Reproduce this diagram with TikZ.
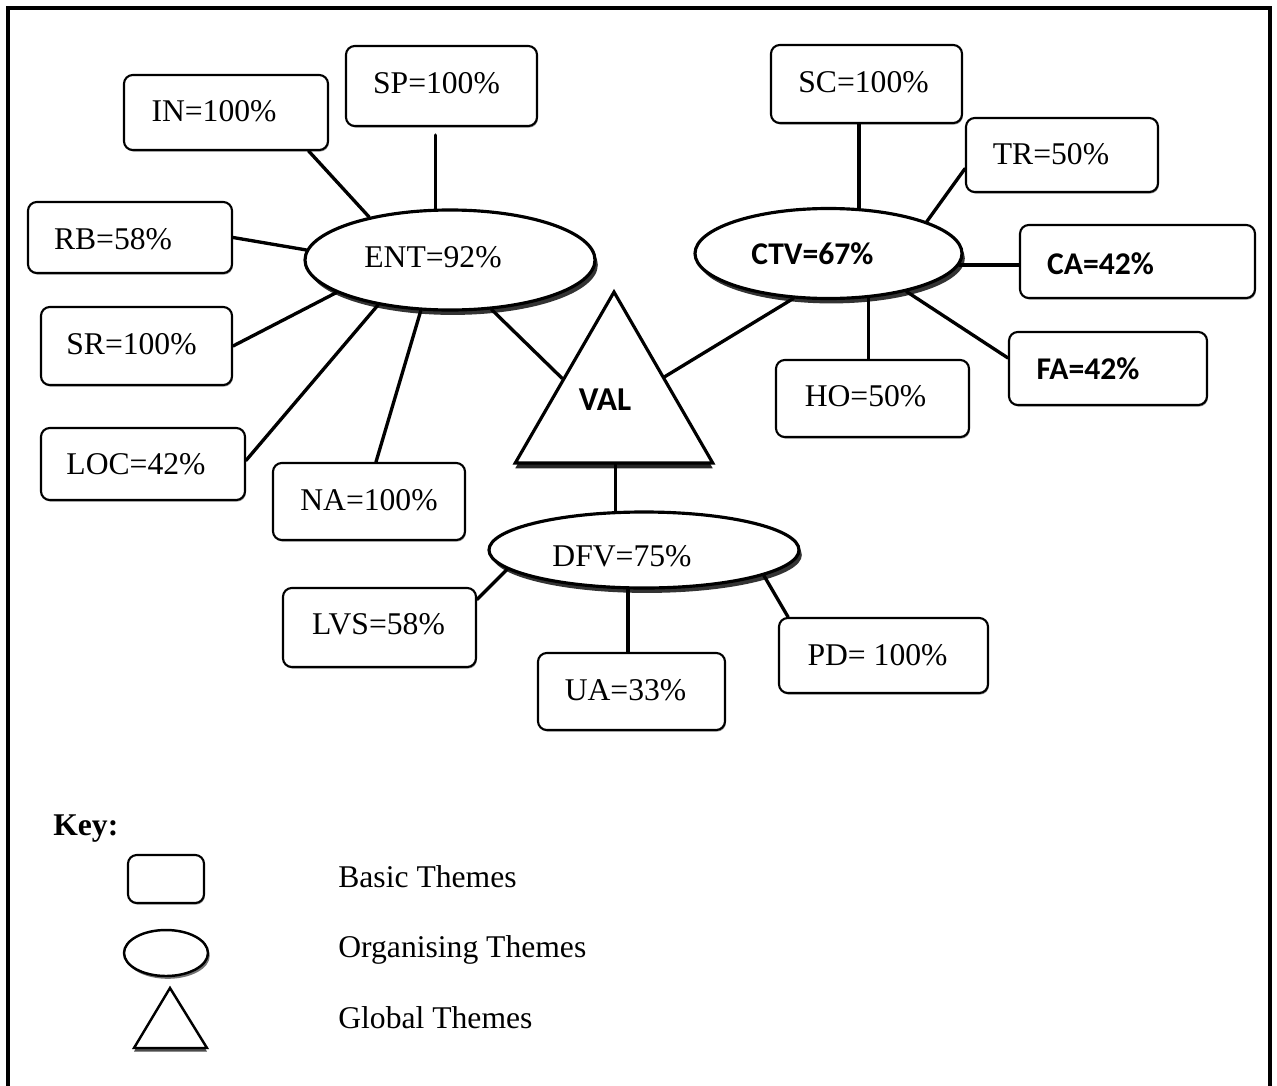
\documentclass[tikz,border=0pt]{standalone}
\usepackage{fontspec}
\setmainfont{Liberation Serif}
\newfontfamily\sansb{Carlito}
\usetikzlibrary{shapes.geometric,shadows,calc}
\tikzset{
  conn/.style={line width=1.9pt, line cap=round},
  wh/.style 2 args={minimum width=#1*0.02cm, minimum height=#2*0.02cm},
  bx/.style={draw, line width=1.2pt, rounded corners=5pt, fill=white, inner sep=0pt,
    drop shadow={shadow xshift=0.5pt, shadow yshift=-0.9pt, fill=black!40, opacity=1}},
  ov/.style={ellipse, draw, line width=1.8pt, fill=white, inner sep=0pt,
    drop shadow={shadow xshift=1.6pt, shadow yshift=-2.8pt, fill=black!80, opacity=1}},
  tx/.style={font=\fontsize{18pt}{21pt}\selectfont, inner sep=0pt},
  sx/.style={font=\sansb\bfseries\fontsize{18pt}{21pt}\selectfont, inner sep=0pt},
}
\begin{document}
\begin{tikzpicture}[x=0.02cm, y=-0.02cm]
\useasboundingbox (0,0) rectangle (1277,1085);
\clip (0,0) rectangle (1277,1085);
% frame
\draw[line width=2.2pt] (8,1100) -- (8,8) -- (1270,8) -- (1270,1100);

% organising themes
\node[ov, wh={290}{100}, label={[tx, shift={(-17,-3)}]center:ENT=92\%}] (ent) at (450,260) {};
\node[ov, wh={267}{90}, label={[sx, shift={(-16,0)}]center:CTV=67\%}] (ctv) at (828.5,253.5) {};
\node[ov, wh={310}{76}, label={[tx, shift={(-22,6)}]center:DFV=75\%}] (dfv) at (644,550) {};

% global theme
\node[regular polygon, regular polygon sides=3, draw, line width=1.8pt, fill=white, inner sep=0pt,
  minimum size=228*0.02cm,
  drop shadow={shadow xshift=0pt, shadow yshift=-3pt, fill=black!85, opacity=1},
  label={[font=\sansb\bfseries\fontsize{19pt}{22pt}\selectfont, inner sep=0pt, shift={(-9,-6)}]center:VAL}] (val) at (614,406) {};

% basic themes
\node[bx, wh={204}{75}, label={[tx, shift={(-12,-1)}]center:IN=100\%}] (bIN) at (226,112.5) {};
\node[bx, wh={191}{80}, label={[tx, shift={(-5,-3)}]center:SP=100\%}] (bSP) at (441.5,86) {};
\node[bx, wh={204}{71}, label={[tx, shift={(-17,2)}]center:RB=58\%}] (bRB) at (130,237.5) {};
\node[bx, wh={191}{78}, label={[tx, shift={(-5,-2)}]center:SR=100\%}] (bSR) at (136.5,346) {};
\node[bx, wh={204}{72}, label={[tx, shift={(-7,0)}]center:LOC=42\%}] (bLOC) at (143,464) {};
\node[bx, wh={192}{77}, label={[tx, shift={(0,-1)}]center:NA=100\%}] (bNA) at (369,501.5) {};
\node[bx, wh={191}{78}, label={[tx, shift={(-3,-2)}]center:SC=100\%}] (bSC) at (866.5,84) {};
\node[bx, wh={192}{74}, label={[tx, shift={(-11,-1)}]center:TR=50\%}] (bTR) at (1062,155) {};
\node[bx, wh={235}{73}, label={[sx, shift={(-37,2)}]center:CA=42\%}] (bCA) at (1137.5,261.5) {};
\node[bx, wh={198}{73}, label={[sx, shift={(-20,0)}]center:FA=42\%}] (bFA) at (1108,368.5) {};
\node[bx, wh={193}{77}, label={[tx, shift={(-7,-2)}]center:HO=50\%}] (bHO) at (872.5,398.5) {};
\node[bx, wh={193}{79}, label={[tx, shift={(-1,-3)}]center:LVS=58\%}] (bLVS) at (379.5,627.5) {};
\node[bx, wh={187}{77}, label={[tx, shift={(-6,-1)}]center:UA=33\%}] (bUA) at (631.5,691.5) {};
\node[bx, wh={209}{75}, label={[tx, shift={(-6,0)}]center:PD= 100\%}] (bPD) at (883.5,655.5) {};

% connectors ENT
\draw[conn] (bIN.-25) -- (ent.152);
\draw[conn] (ent.106) -- ($(ent.106 |- bSP.south)+(0,8)$);
\draw[conn] (bRB.east) -- (ent.176);
\draw[conn] (bSR.east) -- (ent.196);
\draw[conn] (bLOC.2) -- (ent.212);
\draw[conn] (bNA.80) -- (ent.240);
\draw[conn] (ent.-50) -- (val.152);
% connectors CTV
\draw[conn] (ctv.56) -- (ctv.56 |- bSC.south);
\draw[conn] (bTR.188) -- (ctv.18);
\draw[conn] (ctv.-5) -- (ctv.-5 -| bCA.west);
\draw[conn] (ctv.-26) -- (bFA.174);
\draw[conn] (ctv.-48) -- (ctv.-48 |- bHO.north);
\draw[conn] (ctv.232) -- (val.30);
% connectors DFV
\draw[conn] (dfv.126) -- (dfv.126 |- val.south);
\draw[conn] (bLVS.16) -- (dfv.188);
\draw[conn] (dfv.248) -- (dfv.248 |- bUA.north);
\draw[conn] (dfv.-12) -- (bPD.158);

% key
\node[anchor=base west, inner sep=0pt, font=\bfseries\fontsize{18pt}{21pt}\selectfont] (key) at (53,835) {Key:};
\node[bx, wh={76}{48}] (kbox) at (166,879) {};
\node[ellipse, draw, line width=1.4pt, fill=white, inner sep=0pt, wh={84}{46},
  drop shadow={shadow xshift=1pt, shadow yshift=-1.6pt, fill=black!55, opacity=1}] (kell) at (166,953) {};
\coordinate (ka) at (170,988);
\coordinate (kb) at (134,1048);
\coordinate (kc) at (207,1048);
\draw[line width=1.4pt, fill=white, line join=miter,
  drop shadow={shadow xshift=0pt, shadow yshift=-2pt, fill=black!70, opacity=1}] (ka) -- (kb) -- (kc) -- cycle;
\node[tx, anchor=base west] (lbasic) at (338,887) {Basic Themes};
\node[tx, anchor=base west] (lorg) at (338,957) {Organising Themes};
\node[tx, anchor=base west] (lglob) at (338,1028) {Global Themes};
\end{tikzpicture}
\end{document}
